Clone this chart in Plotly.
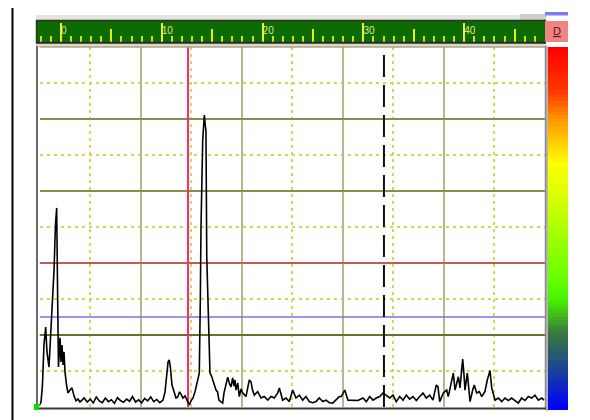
import plotly.graph_objects as go

OFF = 8                      # page body margin offsets the figure by 8 px
W, H = 590 - OFF, 420 - OFF  # figure fills the rest of the 590x420 window

# ---------------- data ----------------
# A-scan amplitude (% screen height) vs ruler position
depth = [-2.18, -1.98, -1.84, -1.69, -1.52, -1.39, -1.19, -1.04, -0.86, -0.69, -0.55, -0.43, -0.33, -0.25,
         -0.10, 0.00, 0.10, 0.20, 0.30, 0.40, 0.55, 0.69, 0.89, 1.09, 1.29, 1.49, 1.69, 1.88, 2.08,
         2.3, 2.6, 2.9, 3.2, 3.5, 3.8, 4.1, 4.4, 4.7, 5.0, 5.3, 5.6, 5.9, 6.2, 6.5, 6.8, 7.1, 7.4, 7.7,
         8.0, 8.3, 8.6, 8.9, 9.2, 9.5, 9.8,
         9.92, 10.12, 10.32, 10.47, 10.62, 10.74, 10.86, 11.01, 11.21, 11.41, 11.58, 11.76, 11.90,
         12.10, 12.30, 12.50, 12.73, 12.90, 13.10, 13.29, 13.44, 13.59, 13.72, 13.82, 13.89, 14.06,
         14.15, 14.22, 14.31, 14.38, 14.46, 14.55, 14.65, 14.73, 14.78, 14.93, 15.05, 15.23, 15.38,
         15.53, 15.67, 15.87, 16.04, 16.17, 16.37, 16.54, 16.72, 16.87, 17.03, 17.16, 17.26, 17.36,
         17.53, 17.69, 17.86, 18.03, 18.35, 18.55, 18.68, 18.85, 19.00, 19.18, 19.51, 19.84, 20.17,
         20.51, 20.83, 21.16, 21.50, 21.66, 21.99, 22.32, 22.65, 22.99, 23.31, 23.64, 23.98, 24.31,
         24.63, 24.97, 25.30, 25.62, 25.96, 26.29, 26.62, 26.95, 27.28, 27.61, 27.81, 28.15, 28.47,
         28.97, 29.46, 29.96, 30.29, 30.62, 30.95, 31.28, 31.62, 31.94, 32.27, 32.61, 32.94, 33.26,
         33.60, 33.93, 34.26, 34.59, 34.92, 35.25, 35.59, 35.91, 36.24, 36.58, 36.90, 37.23, 37.40,
         37.57, 37.93, 38.26, 38.42, 38.76, 38.92, 39.09, 39.42, 39.58, 39.73, 39.85, 39.98, 40.08,
         40.31, 40.58, 40.84, 41.00, 41.24, 41.50, 41.74, 42.06, 42.29, 42.56, 42.73, 43.06, 43.39,
         43.72, 44.05, 44.38, 44.71, 45.04, 45.37, 45.70, 46.03, 46.36, 46.70, 47.02, 47.35, 47.69,
         47.92]
amplitude = [0.3, 1.4, 6.1, 17.2, 22.2, 15.3, 11.1, 18.6, 31.1, 38.1, 50.6, 55.3, 29.7, 11.1,
             19.2, 12.5, 17.2, 11.7, 15.3, 9.7, 6.1, 3.9, 4.7, 5.3, 3.1, 1.7, 2.2, 1.4, 1.9,
             2.5, 1.4, 2.2, 1.1, 2.8, 1.7, 1.2, 2.5, 1.5, 2.0, 1.0, 2.6, 1.8, 1.3, 2.2, 1.6, 2.9, 1.4, 2.0,
             1.1, 2.4, 1.7, 2.8, 1.5, 2.1, 1.2,
             1.4, 1.9, 4.2, 8.9, 12.5, 13.1, 10.8, 6.1, 4.2, 2.5, 2.8, 4.2, 3.6,
             2.5, 3.1, 1.7, 0.6, 1.7, 2.5, 4.2, 5.8, 8.1, 9.4, 29.7, 50.1, 74.2,
             80.3, 81.1, 78.3, 76.9, 41.7, 32.5, 27.9, 17.2, 9.4, 8.6, 7.5, 6.4, 4.7,
             4.2, 1.9, 1.4, 1.1, 3.9, 6.1, 8.3, 6.4, 5.6, 8.1, 5.8, 7.5, 4.7,
             6.7, 2.9, 5.0, 3.9, 2.9, 5.3, 7.5, 7.0, 4.7, 3.3, 4.3, 2.5, 2.9,
             1.9, 2.9, 2.5, 3.9, 5.3, 1.9, 2.5, 1.5, 4.7, 2.5, 3.3, 1.9, 2.9,
             1.5, 1.2, 1.5, 2.5, 1.5, 1.9, 1.2, 1.1, 1.9, 2.9, 2.9, 4.7, 1.9,
             1.8, 1.8, 2.5, 1.5, 2.9, 1.9, 2.5, 2.9, 3.9, 3.3, 2.5, 3.3, 1.5,
             2.9, 1.9, 3.3, 2.2, 2.9, 1.8, 2.9, 3.9, 2.5, 3.3, 1.9, 6.1, 5.6,
             1.5, 3.9, 4.7, 2.9, 7.5, 9.4, 4.7, 8.4, 5.3, 10.3, 13.3, 8.9, 4.7,
             9.4, 1.5, 4.7, 6.1, 3.9, 4.3, 2.9, 4.3, 7.5, 10.1, 5.3, 1.9, 2.5,
             1.5, 2.5, 1.8, 2.5, 1.9, 1.1, 2.5, 1.8, 2.9, 2.5, 3.3, 1.9, 2.5,
             1.9]

ruler_ticks_labeled = [0, 10, 20, 30, 40]
cursor_pos = 12.6          # pink gate/cursor
marker_pos = 32.04         # dashed black marker
red_level = 40             # red threshold (%)
blue_level = 25            # blue threshold (%)
gate_level = 20            # olive gate (%)
color_stops = [0.0, 0.12, 0.21, 0.30, 0.36, 0.58, 0.68, 0.80, 0.88, 1.0]
color_values = ["#0000ff", "#1e4a8a", "#3a7a40", "#48f000", "#66ff00", "#d4ff00",
                "#ffff00", "#ff9a00", "#ff3a00", "#ff0000"]

# ---------------- geometry helpers ----------------
def fx(p):
    return (p - OFF) / W

def fy(p):
    return 1 - (p - OFF) / H

PX_PER_UNIT = 10.08
ZERO_PX = 61.0

def unit(px):
    return (px - ZERO_PX) / PX_PER_UNIT

PL, PR, PT, PB = 39.5, 545, 47, 407       # main plot box (reference px)
X_MIN, X_MAX = unit(PL), unit(PR)

fig = go.Figure()

# reference lines (drawn first, under signal)
fig.add_trace(go.Scatter(x=[X_MIN, X_MAX], y=[gate_level, gate_level], mode="lines",
                         line=dict(color="#6e6e2a", width=2), hoverinfo="skip", showlegend=False))
fig.add_trace(go.Scatter(x=[X_MIN, X_MAX], y=[red_level, red_level], mode="lines",
                         line=dict(color="#d05050", width=1.5), hoverinfo="skip", showlegend=False))
fig.add_trace(go.Scatter(x=[X_MIN, X_MAX], y=[blue_level, blue_level], mode="lines",
                         line=dict(color="#7676e0", width=1.5), hoverinfo="skip", showlegend=False))
fig.add_trace(go.Scatter(x=[cursor_pos, cursor_pos], y=[0, 100], mode="lines",
                         line=dict(color="#ff2a6a", width=2), hoverinfo="skip", showlegend=False))
fig.add_trace(go.Scatter(x=[marker_pos, marker_pos], y=[0, 100], mode="lines",
                         line=dict(color="#111111", width=2, dash="22px,8px"),
                         hoverinfo="skip", showlegend=False))
# signal
fig.add_trace(go.Scatter(x=depth, y=amplitude, mode="lines",
                         line=dict(color="#000000", width=1.6), showlegend=False))

# ruler axes need a trace each to be drawn
for xa in ["x2", "x3", "x4"]:
    fig.add_trace(go.Scatter(x=[ruler_ticks_labeled[0]], y=[0.5], xaxis=xa, yaxis="y2",
                             mode="markers", marker=dict(opacity=0), hoverinfo="skip",
                             showlegend=False))

# colour bar as heatmap
fig.add_trace(go.Heatmap(z=[[i] for i in range(101)], x=[0], y=list(range(101)),
                         xaxis="x5", yaxis="y5", showscale=False, hoverinfo="skip",
                         colorscale=[[s, c] for s, c in zip(color_stops, color_values)]))

RUL_L, RUL_R, RUL_T, RUL_B = 37, 545, 21, 42
ruler_min = unit(RUL_L)
tick_col = "#c8e41a"

fig.update_layout(
    width=W, height=H, margin=dict(l=0, r=0, t=0, b=0),
    paper_bgcolor="white", plot_bgcolor="rgba(0,0,0,0)",
    xaxis=dict(domain=[fx(PL), fx(PR)], range=[X_MIN, X_MAX], anchor="y",
               tick0=X_MIN, dtick=(X_MAX - X_MIN) / 5, showticklabels=False, ticks="",
               showgrid=True, gridcolor="#b8b88c", gridwidth=1.5, zeroline=False,
               minor=dict(tick0=X_MIN, dtick=(X_MAX - X_MIN) / 10, showgrid=True,
                          gridcolor="#d6d650", griddash="3px,4px", gridwidth=1.5),
               showline=False),
    yaxis=dict(domain=[fy(PB), fy(PT)], range=[0, 100], anchor="x",
               tick0=0, dtick=20, showticklabels=False, ticks="",
               showgrid=True, gridcolor="#8c8c50", gridwidth=1.5, zeroline=False,
               minor=dict(dtick=10, showgrid=True, gridcolor="#d6d650",
                          griddash="3px,4px", gridwidth=1.5),
               showline=False),
    xaxis2=dict(domain=[fx(RUL_L), fx(RUL_R)], range=[ruler_min, X_MAX], anchor="y2",
                side="bottom", tick0=0, dtick=5, ticks="inside", ticklen=13, tickwidth=1.5,
                tickcolor="#e8f000", showticklabels=False, showgrid=False, zeroline=False,
                minor=dict(tick0=0, dtick=1, ticks="inside", ticklen=6, tickwidth=1.5,
                           tickcolor=tick_col)),
    xaxis3=dict(overlaying="x2", range=[ruler_min, X_MAX], anchor="y2", side="bottom",
                tickmode="array", tickvals=ruler_ticks_labeled, ticks="inside", ticklen=19,
                tickwidth=1.5, tickcolor="#f0f020", showticklabels=False, showgrid=False,
                zeroline=False),
    xaxis4=dict(overlaying="x2", range=[ruler_min, X_MAX], anchor="y2", side="top",
                tickmode="array", tickvals=ruler_ticks_labeled,
                ticktext=[str(v) for v in ruler_ticks_labeled], ticks="",
                ticklabelposition="inside right", showgrid=False, zeroline=False,
                tickfont=dict(family="Liberation Sans", size=10, color="#e6e68a")),
    yaxis2=dict(domain=[fy(RUL_B), fy(RUL_T)], range=[0, 1], anchor="x2", visible=False),
    xaxis5=dict(domain=[fx(548), fx(568)], anchor="y5", visible=False),
    yaxis5=dict(domain=[fy(410), fy(47)], anchor="x5", visible=False, range=[-0.5, 100.5]),
)

def rect(x0, y0, x1, y1, fill=None, line=None, lw=0, layer="below"):
    return dict(type="rect", xref="paper", yref="paper",
                x0=fx(x0), x1=fx(x1), y0=fy(y1), y1=fy(y0),
                fillcolor=fill if fill else "rgba(0,0,0,0)",
                line=dict(color=line if line else "rgba(0,0,0,0)", width=lw), layer=layer)

def seg(x0, y0, x1, y1, color, w, layer="above"):
    return dict(type="line", xref="paper", yref="paper", x0=fx(x0), x1=fx(x1),
                y0=fy(y0), y1=fy(y1), line=dict(color=color, width=w), layer=layer)

shapes = [
    rect(36, 15, 546, 20.5, fill="#e4e4dc"),          # light strip above ruler
    rect(520, 14, 546, 20.5, fill="#cfcfc2"),
    rect(RUL_L, RUL_T, RUL_R, RUL_B, fill="#0b6a00"),    # ruler body
    rect(36, 42, 546, 47, fill="#d8d8d0"),            # strip under ruler
    seg(36, 20.5, 546, 20.5, "#303030", 1.5),
    seg(36, 42.8, 546, 42.8, "#2a2a2a", 2),
    seg(36.5, 20, 36.5, 43, "#303030", 1.5),
    rect(545, 21, 568, 42, fill="#f08484", layer="above"),   # "D" box
    rect(545, 12, 568, 15.5, fill="#7c7cf0", layer="above"),
    seg(PL, PT, PR, PT, "#a8a878", 1.5),                # plot frame
    seg(37, 46, 37, 409, "#6a6a6a", 2),
    seg(PR + 0.5, 46, PR + 0.5, 410, "#8a8a8a", 1.5),
    seg(36, 408.5, 546, 408.5, "#3a3a3a", 2),
    seg(547, 46, 547, 411, "#9a9a9a", 1.5),
    rect(34, 404, 39, 410, fill="#00e000", layer="above"),   # green origin mark
    seg(12.5, 8, 12.5, 420, "#000000", 2),                   # outer frame (left)
    seg(587, 8, 587, 420, "#000000", 2),                     # outer frame (right)
]
fig.update_layout(shapes=shapes)

fig.add_annotation(x=fx(557), y=fy(31), xref="paper", yref="paper", text="<u>D</u>",
                   xanchor="center", yanchor="middle", showarrow=False,
                   font=dict(family="Liberation Sans", size=11, color="#5a1010"))

fig.write_html("out.html")
